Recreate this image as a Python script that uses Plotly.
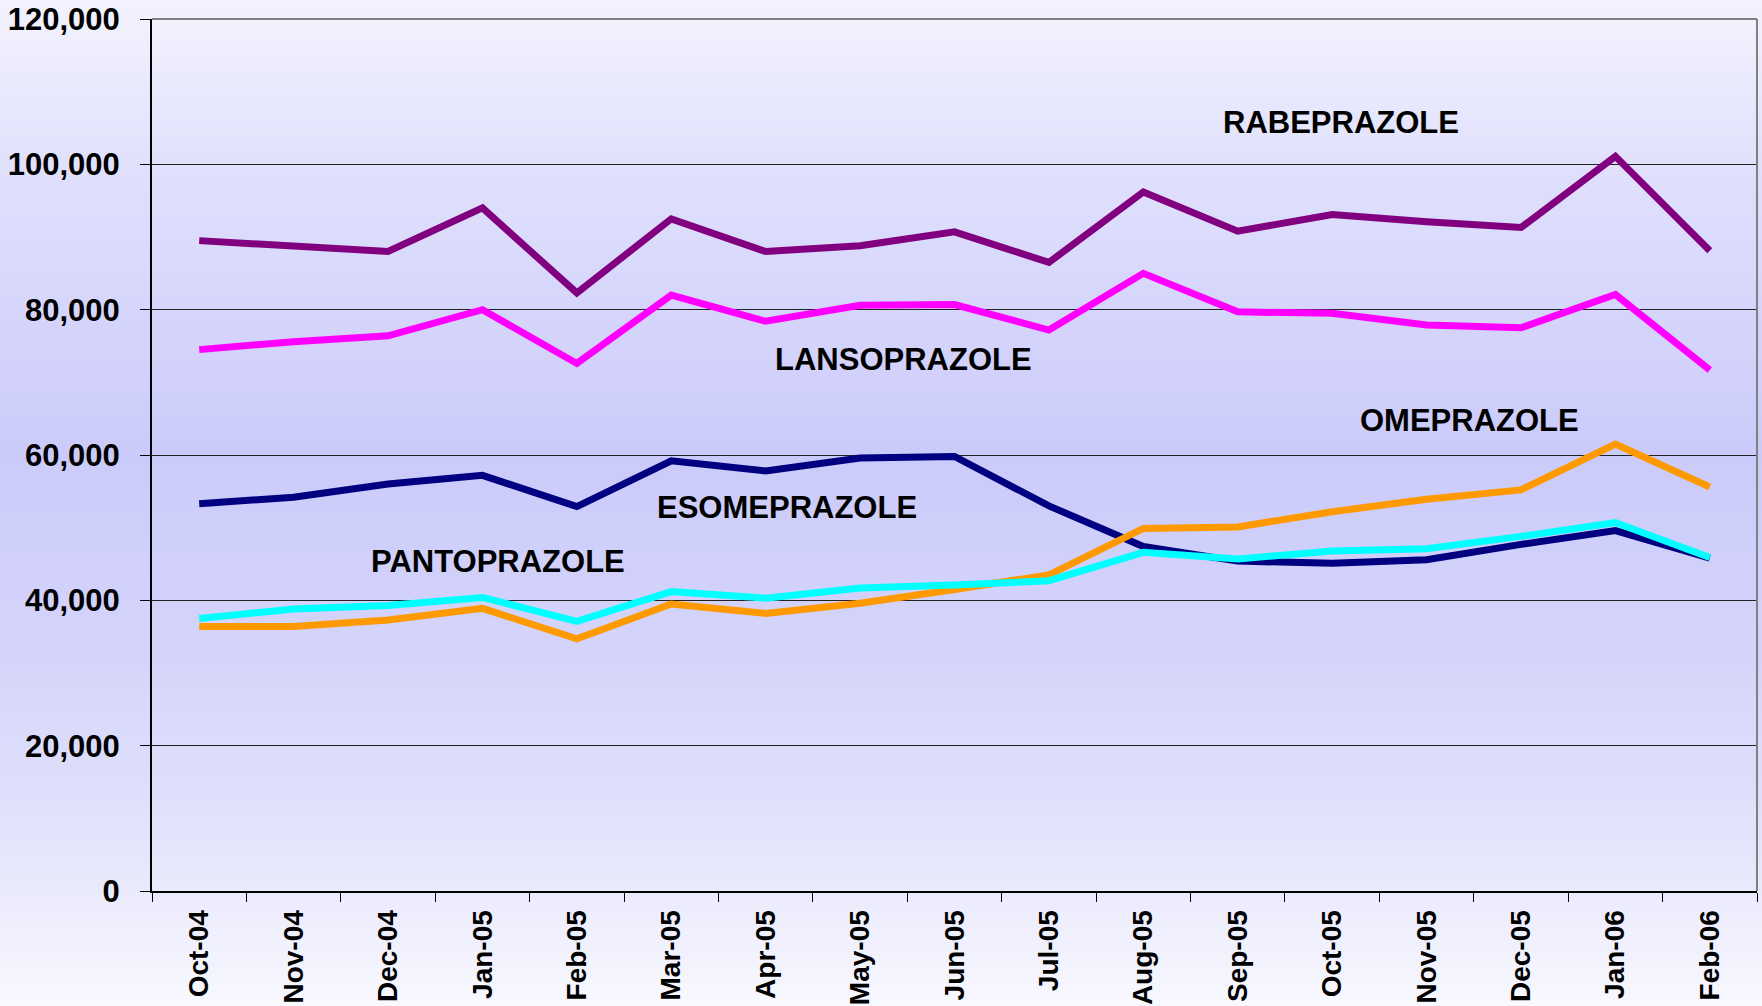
import plotly.graph_objects as go

months = ["Oct-04", "Nov-04", "Dec-04", "Jan-05", "Feb-05", "Mar-05", "Apr-05", "May-05",
          "Jun-05", "Jul-05", "Aug-05", "Sep-05", "Oct-05", "Nov-05", "Dec-05", "Jan-06", "Feb-06"]

rabeprazole = [89500, 88800, 88000, 94000, 82300, 92500, 88000, 88800, 90700, 86500, 96200,
               90800, 93100, 92100, 91300, 101100, 88100]
lansoprazole = [74500, 75600, 76400, 80000, 72600, 82000, 78400, 80600, 80700, 77200, 85000,
                79700, 79500, 77900, 77500, 82100, 71700]
esomeprazole = [53300, 54200, 56000, 57200, 52900, 59200, 57800, 59600, 59800, 53000, 47400,
                45400, 45100, 45600, 47700, 49600, 45800]
omeprazole = [36400, 36400, 37300, 38900, 34700, 39500, 38200, 39600, 41500, 43500, 49900,
              50100, 52200, 53900, 55200, 61500, 55600]
pantoprazole = [37500, 38800, 39300, 40400, 37100, 41200, 40300, 41700, 42100, 42700, 46600,
                45700, 46800, 47100, 48800, 50700, 45900]

series = [
    ("RABEPRAZOLE", rabeprazole, "#800080"),
    ("LANSOPRAZOLE", lansoprazole, "#FF00FF"),
    ("ESOMEPRAZOLE", esomeprazole, "#000080"),
    ("OMEPRAZOLE", omeprazole, "#FF9900"),
    ("PANTOPRAZOLE", pantoprazole, "#00FFFF"),
]

# label positions: (text, x category index, y value)
labels = [
    ("RABEPRAZOLE", 12.09, 105800),
    ("LANSOPRAZOLE", 7.46, 73200),
    ("OMEPRAZOLE", 13.45, 64700),
    ("ESOMEPRAZOLE", 6.23, 52800),
    ("PANTOPRAZOLE", 3.17, 45300),
]

fig = go.Figure()
for name, vals, col in series:
    fig.add_trace(go.Scatter(x=months, y=vals, mode="lines", name=name,
                             line=dict(color=col, width=7), showlegend=False))

# background gradient across whole figure
W, H = 1762, 1006
ml, mr, mt, mb = 152, 5, 19, 115
pw, ph = W - ml - mr, H - mt - mb
stops = [(0.0, (243, 243, 254)), (0.17, (224, 224, 252)), (0.45, (203, 203, 251)),
         (0.65, (212, 212, 251)), (0.80, (224, 224, 251)), (1.0, (248, 248, 255))]

def color_at(t):
    for (t0, c0), (t1, c1) in zip(stops[:-1], stops[1:]):
        if t0 <= t <= t1:
            f = (t - t0) / (t1 - t0)
            return "rgb(%d,%d,%d)" % tuple(round(a + (b - a) * f) for a, b in zip(c0, c1))
    return "rgb(%d,%d,%d)" % stops[-1][1]

shapes = []
step = 4
for py in range(0, H, step):
    y0 = (H - mb - py) / ph
    y1 = (H - mb - (py + step + 1)) / ph
    shapes.append(dict(type="rect", xref="paper", yref="paper",
                       x0=-ml / pw - 0.01, x1=1 + mr / pw + 0.01, y0=y1, y1=y0,
                       fillcolor=color_at((py + step / 2) / H), line=dict(width=0),
                       layer="below"))
# top and right plot border (gray)
shapes.append(dict(type="line", xref="paper", yref="paper", x0=0, x1=1, y0=1, y1=1,
                   line=dict(color="#808080", width=2)))
shapes.append(dict(type="line", xref="paper", yref="paper", x0=1, x1=1, y0=0, y1=1,
                   line=dict(color="#808080", width=2)))

annotations = [dict(x=x, y=y, xref="x", yref="y", text=t, showarrow=False,
                    font=dict(family="Liberation Sans, Arial, sans-serif", size=31,
                              color="black", weight="bold"))
               for t, x, y in labels]

fig.update_layout(
    width=W, height=H,
    margin=dict(l=ml, r=mr, t=mt, b=mb, autoexpand=False),
    paper_bgcolor="white",
    plot_bgcolor="rgba(0,0,0,0)",
    shapes=shapes,
    annotations=annotations,
    font=dict(family="Liberation Sans, Arial, sans-serif", color="black"),
)
fig.update_xaxes(
    type="category", tickangle=-90, tickson="boundaries",
    range=[-0.5, len(months) - 0.5],
    ticks="outside", ticklen=9, tickcolor="black", tickwidth=1,
    showline=True, linecolor="black", linewidth=2, showgrid=False,
    tickfont=dict(size=28, weight="bold", color="black"),
    ticklabelstandoff=6, automargin=False,
)
fig.update_yaxes(
    range=[0, 120000], dtick=20000, tickformat=",d",
    ticks="outside", ticklen=10, tickcolor="black", tickwidth=1,
    showline=True, linecolor="black", linewidth=2,
    showgrid=True, gridcolor="#222222", gridwidth=1, zeroline=False,
    tickfont=dict(size=31, weight="bold", color="black"),
    ticklabelstandoff=14, automargin=False,
)

fig.write_html("out.html", config={"displayModeBar": False},
               post_script="document.body.style.margin='0';document.body.style.overflow='hidden';")
